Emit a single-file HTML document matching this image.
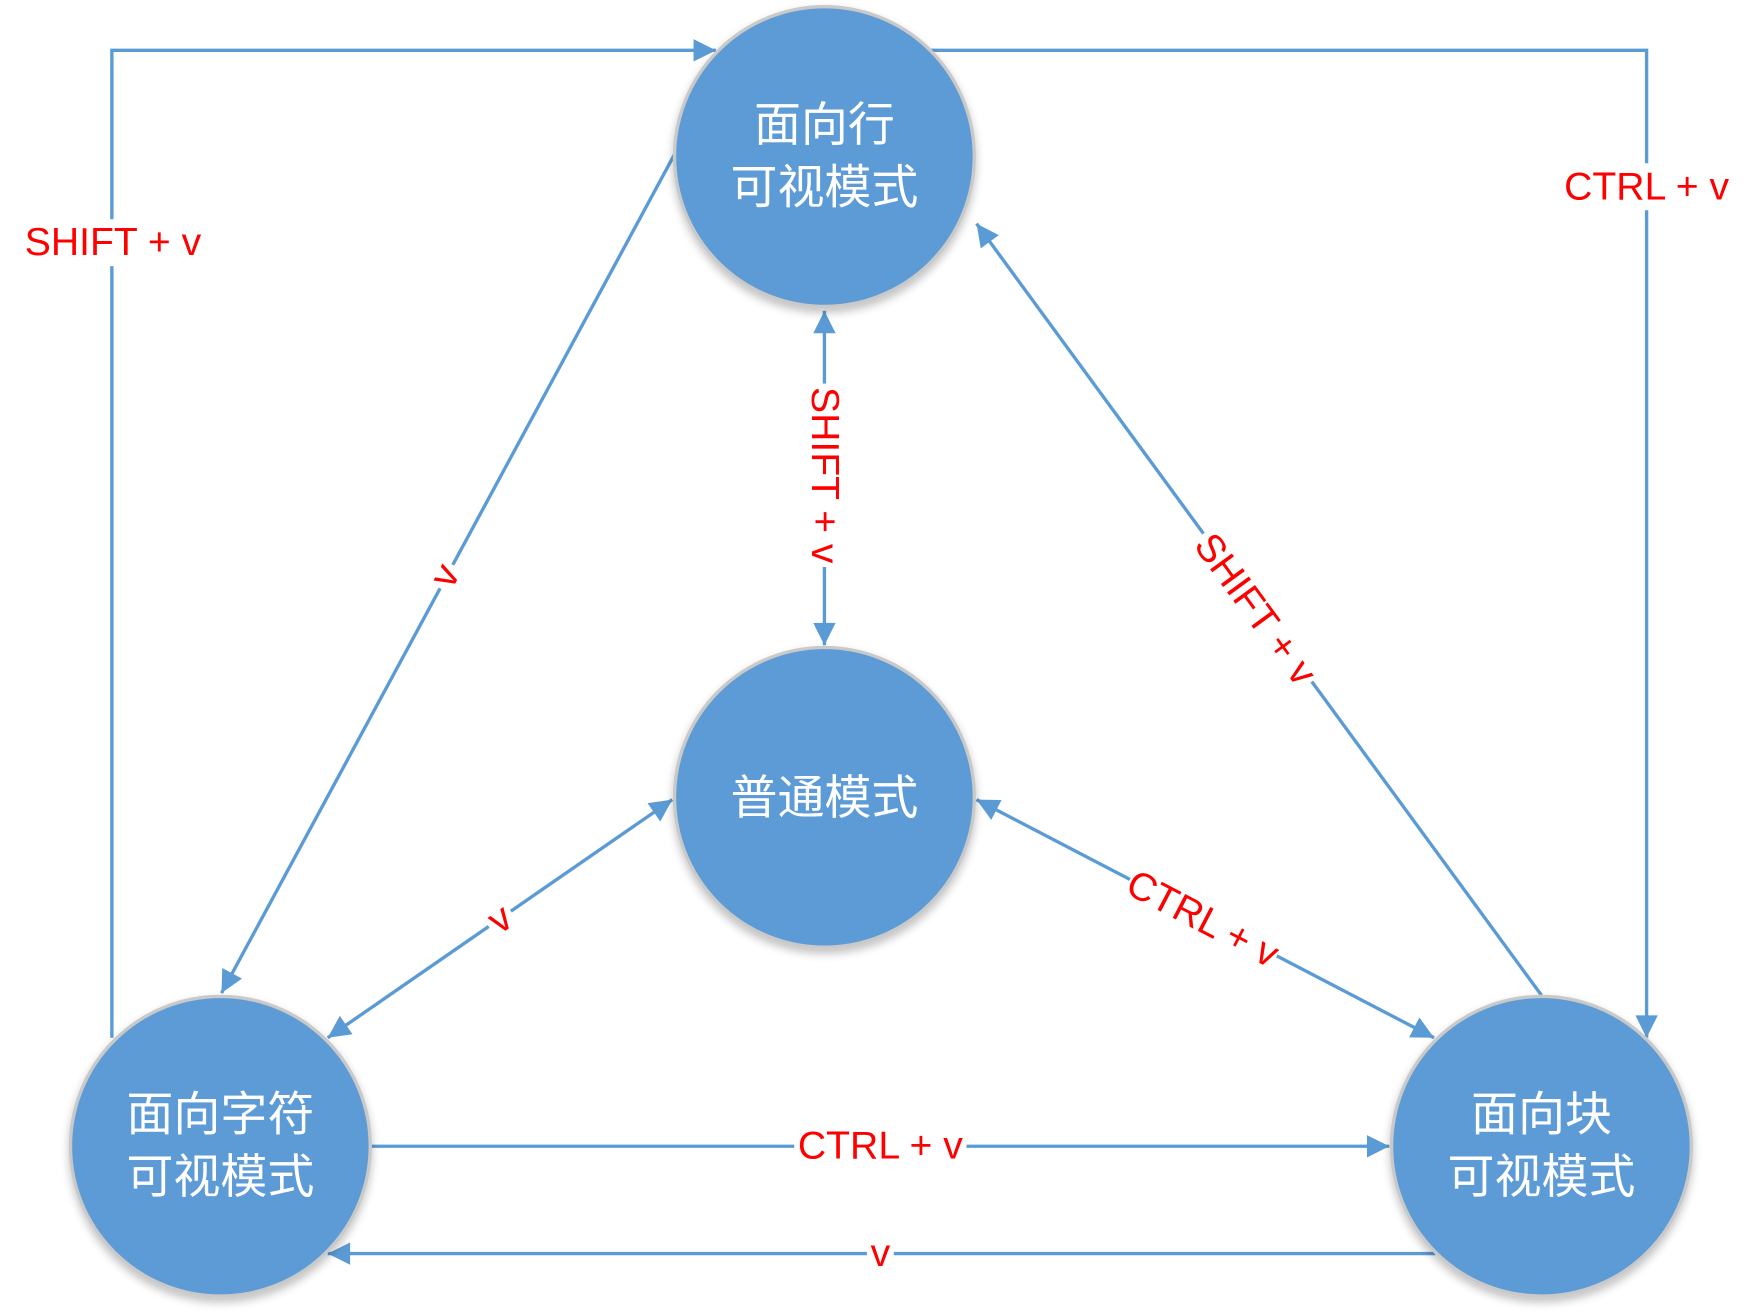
<!DOCTYPE html>
<html><head><meta charset="utf-8"><style>
html,body{margin:0;padding:0;background:#fff;}
svg{display:block;}
.n{fill:#5B9BD5;stroke:#C9C9C9;stroke-width:3;}
.t{fill:#fff;font-family:"Liberation Sans","Noto Sans CJK SC",sans-serif;font-size:42px;text-anchor:middle;}
.l{stroke:#5B9BD5;stroke-width:3;fill:none;}
.lb{fill:#FF0000;font-family:"Liberation Sans","Noto Sans CJK SC",sans-serif;font-size:35px;text-anchor:middle;dominant-baseline:central;}
</style></head><body>
<svg width="1754" height="1314" viewBox="0 0 1568 1175" preserveAspectRatio="none" xmlns="http://www.w3.org/2000/svg">
<defs>
<marker id="b" viewBox="0 0 10 10" refX="10" refY="5" markerWidth="24" markerHeight="20" markerUnits="userSpaceOnUse" orient="auto-start-reverse"><path d="M0,0 L10,5 L0,10 z" fill="#5B9BD5"/></marker>
<filter id="s" x="-20%" y="-20%" width="140%" height="140%"><feGaussianBlur in="SourceAlpha" stdDeviation="4"/><feOffset dx="0" dy="4"/><feComponentTransfer><feFuncA type="linear" slope="0.25"/></feComponentTransfer><feMerge><feMergeNode/><feMergeNode in="SourceGraphic"/></feMerge></filter>
</defs>
<polyline class="l" points="100,928 100,45 640,45" marker-end="url(#b)"/>
<polyline class="l" points="832,45 1472,45 1472,928" marker-end="url(#b)"/>
<line class="l" x1="603" y1="138" x2="198" y2="888" marker-end="url(#b)"/>
<line class="l" x1="737" y1="278" x2="737" y2="577" marker-start="url(#b)" marker-end="url(#b)"/>
<line class="l" x1="873" y1="200" x2="1378" y2="890" marker-start="url(#b)"/>
<line class="l" x1="601" y1="715" x2="293" y2="928" marker-start="url(#b)" marker-end="url(#b)"/>
<line class="l" x1="873" y1="715" x2="1282" y2="928" marker-start="url(#b)" marker-end="url(#b)"/>
<line class="l" x1="332" y1="1025" x2="1242" y2="1025" marker-end="url(#b)"/>
<line class="l" x1="1283" y1="1121" x2="293" y2="1121" marker-end="url(#b)"/>
<g filter="url(#s)">
<circle class="n" cx="737" cy="140" r="134"/>
<circle class="n" cx="737" cy="713" r="134"/>
<circle class="n" cx="197" cy="1025" r="134"/>
<circle class="n" cx="1378" cy="1025" r="134"/>
</g>
<text class="t" x="737" y="126">面向行</text>
<text class="t" x="737" y="182">可视模式</text>
<text class="t" x="737" y="728">普通模式</text>
<text class="t" x="197" y="1011">面向字符</text>
<text class="t" x="197" y="1067">可视模式</text>
<text class="t" x="1378" y="1011">面向块</text>
<text class="t" x="1378" y="1067">可视模式</text>
<rect x="18" y="196" width="166" height="42" fill="#fff"/>
<text class="lb" x="101" y="217">SHIFT + v</text>
<rect x="1396" y="146" width="154" height="42" fill="#fff"/>
<text class="lb" x="1472" y="167">CTRL + v</text>
<g transform="translate(398,515) rotate(-62)"><rect x="-12" y="-20" width="24" height="40" fill="#fff"/><text class="lb" x="0" y="0">v</text></g>
<g transform="translate(737,425) rotate(90)"><rect x="-82" y="-20" width="164" height="40" fill="#fff"/><text class="lb" x="0" y="0">SHIFT + v</text></g>
<g transform="translate(1122,545) rotate(53.8)"><rect x="-82" y="-20" width="164" height="40" fill="#fff"/><text class="lb" x="0" y="0">SHIFT + v</text></g>
<g transform="translate(447,822) rotate(-34.7)"><rect x="-12" y="-20" width="24" height="40" fill="#fff"/><text class="lb" x="0" y="0">v</text></g>
<g transform="translate(1075,822) rotate(27.5)"><rect x="-74" y="-20" width="148" height="40" fill="#fff"/><text class="lb" x="0" y="0">CTRL + v</text></g>
<rect x="710" y="1005" width="154" height="40" fill="#fff"/>
<text class="lb" x="787" y="1025">CTRL + v</text>
<rect x="775" y="1101" width="24" height="40" fill="#fff"/>
<text class="lb" x="787" y="1121">v</text>
</svg>
</body></html>
